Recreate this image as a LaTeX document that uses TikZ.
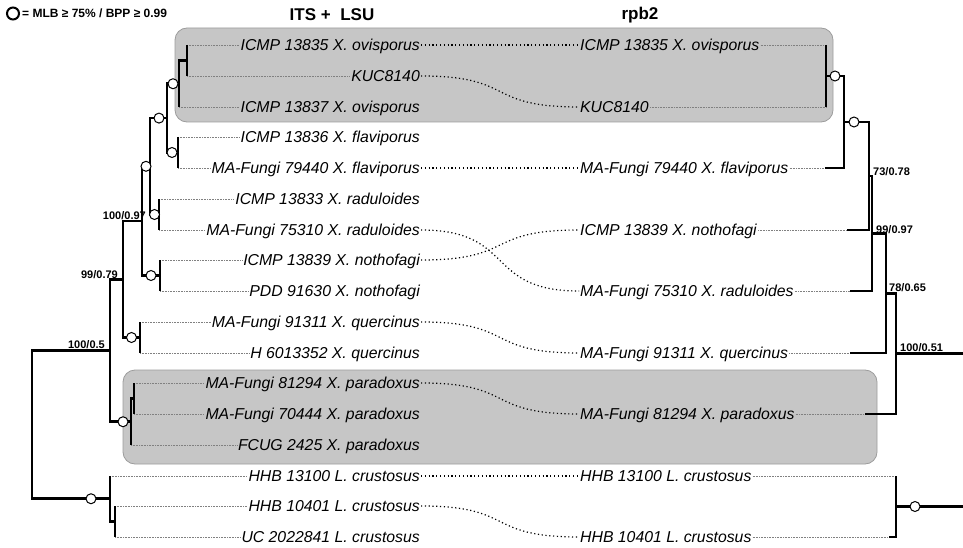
\documentclass[tikz,border=0pt]{standalone}
\usepackage{fontspec}
\setmainfont{Liberation Sans}
\usepackage{xcolor}
\usetikzlibrary{positioning}

\definecolor{cladegray}{HTML}{C6C6C6}
\definecolor{cladeedge}{HTML}{9C9C9C}

\begin{document}
\begin{tikzpicture}[
    x=1pt, y=-1pt,
    taxon/.style={font=\fontsize{15.8}{16}\selectfont\itshape, inner sep=1pt, text height=12pt, text depth=0.7pt},
    branch/.style={line width=2.6pt, line join=miter},
    leader/.style={gray, line width=0.5pt, dash pattern=on 0.8pt off 0.8pt},
    link/.style={line width=1.2pt, dash pattern=on 1.2pt off 2.6pt},
    sup/.style={circle, draw, fill=white, line width=1pt, minimum size=10pt, inner sep=0pt},
    bs/.style={font=\fontsize{11}{12}\selectfont\bfseries, inner sep=1pt},
    clade/.style={fill=cladegray, draw=cladeedge, line width=0.8pt, rounded corners=12pt},
    head/.style={font=\fontsize{17}{18}\selectfont\bfseries}
]
\useasboundingbox (0,0) rectangle (963,548);

% Clade boxes
\draw[clade] (175,28) rectangle (833,122);
\draw[clade] (123,370) rectangle (877,464);

% Legend and headers
\node[sup, line width=2pt, minimum size=12pt] (key) at (13,13.5) {};
\node[font=\fontsize{12}{13}\selectfont\bfseries, inner sep=0pt, right=2pt of key] (keytext) {= MLB ≥ 75\% / BPP ≥ 0.99};
\node[head] (hits) at (332,15) {ITS +\ \ LSU};
\node[head] (hrpb) at (640,15) {rpb2};

% ITS + LSU taxa
\node[taxon, anchor=east] (l1) at (421,45) {ICMP 13835 X. ovisporus};
\node[taxon, anchor=east] (l2) at (421,76) {KUC8140};
\node[taxon, anchor=east] (l3) at (421,107) {ICMP 13837 X. ovisporus};
\node[taxon, anchor=east] (l4) at (421,137) {ICMP 13836 X. flaviporus};
\node[taxon, anchor=east] (l5) at (421,168) {MA-Fungi 79440 X. flaviporus};
\node[taxon, anchor=east] (l6) at (421,199) {ICMP 13833 X. raduloides};
\node[taxon, anchor=east] (l7) at (421,230) {MA-Fungi 75310 X. raduloides};
\node[taxon, anchor=east] (l8) at (421,260) {ICMP 13839 X. nothofagi};
\node[taxon, anchor=east] (l9) at (421,291) {PDD 91630 X. nothofagi};
\node[taxon, anchor=east] (l10) at (421,322) {MA-Fungi 91311 X. quercinus};
\node[taxon, anchor=east] (l11) at (421,353) {H 6013352 X. quercinus};
\node[taxon, anchor=east] (l12) at (421,383) {MA-Fungi 81294 X. paradoxus};
\node[taxon, anchor=east] (l13) at (421,414) {MA-Fungi 70444 X. paradoxus};
\node[taxon, anchor=east] (l14) at (421,445) {FCUG 2425 X. paradoxus};
\node[taxon, anchor=east] (l15) at (421,476) {HHB 13100 L. crustosus};
\node[taxon, anchor=east] (l16) at (421,506) {HHB 10401 L. crustosus};
\node[taxon, anchor=east] (l17) at (421,537) {UC 2022841 L. crustosus};

% rpb2 taxa
\node[taxon, anchor=west] (r1) at (579,45) {ICMP 13835 X. ovisporus};
\node[taxon, anchor=west] (r2) at (579,107) {KUC8140};
\node[taxon, anchor=west] (r3) at (579,168) {MA-Fungi 79440 X. flaviporus};
\node[taxon, anchor=west] (r4) at (579,230) {ICMP 13839 X. nothofagi};
\node[taxon, anchor=west] (r5) at (579,291) {MA-Fungi 75310 X. raduloides};
\node[taxon, anchor=west] (r6) at (579,353) {MA-Fungi 91311 X. quercinus};
\node[taxon, anchor=west] (r7) at (579,414) {MA-Fungi 81294 X. paradoxus};
\node[taxon, anchor=west] (r8) at (579,476) {HHB 13100 L. crustosus};
\node[taxon, anchor=west] (r9) at (579,537) {HHB 10401 L. crustosus};

% Tips and internal nodes, left tree
\coordinate (tL1) at (187,45);
\coordinate (tL2) at (187,76);
\coordinate (tL3) at (179,107);
\coordinate (tL4) at (178,137);
\coordinate (tL5) at (178,168);
\coordinate (tL6) at (159,199);
\coordinate (tL7) at (159,230);
\coordinate (tL8) at (160,260);
\coordinate (tL9) at (160,291);
\coordinate (tL10) at (140,322);
\coordinate (tL11) at (140,353);
\coordinate (tL12) at (134,383);
\coordinate (tL13) at (134,414);
\coordinate (tL14) at (131,445);
\coordinate (tL15) at (110,476);
\coordinate (tL16) at (115,506);
\coordinate (tL17) at (115,537);
\coordinate (n12) at (187,60.5);
\coordinate (n123) at (179,83.75);
\coordinate (n45) at (178,152.5);
\coordinate (nOF) at (167,118.1);
\coordinate (n67) at (159,214.5);
\coordinate (nA) at (150,166.3);
\coordinate (n89) at (160,275.5);
\coordinate (nB) at (142,220.9);
\coordinate (n1011) at (140,337.5);
\coordinate (nC) at (123,279.2);
\coordinate (n1213) at (134,398.5);
\coordinate (nPar) at (131,421.75);
\coordinate (nD) at (110,350.5);
\coordinate (n1617) at (115,521.5);
\coordinate (nCru) at (110,498.75);
\coordinate (nRoot) at (32,424.6);

% Tips and internal nodes, right tree
\coordinate (tR1) at (826,45);
\coordinate (tR2) at (826,107);
\coordinate (tR3) at (825,168);
\coordinate (tR4) at (847,230);
\coordinate (tR5) at (850,291);
\coordinate (tR6) at (850,353);
\coordinate (tR7) at (865,414);
\coordinate (tR8) at (896,476);
\coordinate (tR9) at (889,537);
\coordinate (m12) at (826,76);
\coordinate (m123) at (844,122);
\coordinate (mF) at (869,176);
\coordinate (mE) at (872,233.5);
\coordinate (mG) at (886,293.25);
\coordinate (mH) at (896,353.6);
\coordinate (m89) at (896,506.5);
\coordinate (eR1) at (963,353.6);
\coordinate (eR2) at (963,506.5);

% Leaders
\draw[leader] (tL1) -- (l1.west);
\draw[leader] (tL2) -- (l2.west);
\draw[leader] (tL3) -- (l3.west);
\draw[leader] (tL4) -- (l4.west);
\draw[leader] (tL5) -- (l5.west);
\draw[leader] (tL6) -- (l6.west);
\draw[leader] (tL7) -- (l7.west);
\draw[leader] (tL8) -- (l8.west);
\draw[leader] (tL9) -- (l9.west);
\draw[leader] (tL10) -- (l10.west);
\draw[leader] (tL11) -- (l11.west);
\draw[leader] (tL12) -- (l12.west);
\draw[leader] (tL13) -- (l13.west);
\draw[leader] (tL14) -- (l14.west);
\draw[leader] (tL15) -- (l15.west);
\draw[leader] (tL16) -- (l16.west);
\draw[leader] (tL17) -- (l17.west);
\draw[leader] (r1.east) -- (tR1);
\draw[leader] (r2.east) -- (tR2);
\draw[leader] (r3.east) -- (tR3);
\draw[leader] (r4.east) -- (tR4);
\draw[leader] (r5.east) -- (tR5);
\draw[leader] (r6.east) -- (tR6);
\draw[leader] (r7.east) -- (tR7);
\draw[leader] (r8.east) -- (tR8);
\draw[leader] (r9.east) -- (tR9);

% Links between the two trees
\draw[link] (l1.east) -- (r1.west);
\draw[link] (l2.east) .. controls +(95,0) and +(-95,0) .. (r2.west);
\draw[link] (l5.east) -- (r3.west);
\draw[link] (l7.east) .. controls +(95,0) and +(-95,0) .. (r5.west);
\draw[link] (l8.east) .. controls +(95,0) and +(-95,0) .. (r4.west);
\draw[link] (l10.east) .. controls +(95,0) and +(-95,0) .. (r6.west);
\draw[link] (l12.east) .. controls +(95,0) and +(-95,0) .. (r7.west);
\draw[link] (l15.east) -- (r8.west);
\draw[link] (l16.east) .. controls +(95,0) and +(-95,0) .. (r9.west);

% Left tree
\draw[branch] (tL1) -| (n12) |- (tL2);
\draw[branch] (n12) -| (n123) |- (tL3);
\draw[branch] (tL4) -| (n45) |- (tL5);
\draw[branch] (n123) -| (nOF) |- (n45);
\draw[branch] (tL6) -| (n67) |- (tL7);
\draw[branch] (nOF) -| (nA) |- (n67);
\draw[branch] (tL8) -| (n89) |- (tL9);
\draw[branch] (nA) -| (nB) |- (n89);
\draw[branch] (tL10) -| (n1011) |- (tL11);
\draw[branch] (nB) -| (nC) |- (n1011);
\draw[branch] (tL12) -| (n1213) |- (tL13);
\draw[branch] (n1213) -| (nPar) |- (tL14);
\draw[branch] (nC) -| (nD) |- (nPar);
\draw[branch] (tL16) -| (n1617) |- (tL17);
\draw[branch] (tL15) -| (nCru) |- (n1617);
\draw[branch] (nD) -| (nRoot) |- (nCru);

% Right tree
\draw[branch] (tR1) -| (m12) |- (tR2);
\draw[branch] (m12) -| (m123) |- (tR3);
\draw[branch] (m123) -| (mF) |- (tR4);
\draw[branch] (mF) -| (mE) |- (tR5);
\draw[branch] (mE) -| (mG) |- (tR6);
\draw[branch] (mG) -| (mH) |- (tR7);
\draw[branch] (mH) -- (eR1);
\draw[branch] (tR8) -| (m89) |- (tR9);
\draw[branch] (m89) -- (eR2);

% Well supported nodes
\node[sup] (s1) at (173,83.75) {};
\node[sup] (s2) at (159,118.1) {};
\node[sup] (s3) at (172,152.5) {};
\node[sup] (s4) at (146,166.3) {};
\node[sup] (s5) at (154.5,214.5) {};
\node[sup] (s6) at (151,275.5) {};
\node[sup] (s7) at (131.5,337.5) {};
\node[sup] (s8) at (123,421.75) {};
\node[sup] (s9) at (91,498.75) {};
\node[sup] (s10) at (835,76) {};
\node[sup] (s11) at (854,122) {};
\node[sup] (s12) at (915,506.5) {};

% Support values
\node[bs, anchor=south east] (b1) at (147,220.5) {100/0.97};
\node[bs, anchor=south east] (b2) at (119,280) {99/0.79};
\node[bs, anchor=south east] (b3) at (106,350) {100/0.5};
\node[bs, anchor=south west] (b4) at (872,176.7) {73/0.78};
\node[bs, anchor=south west] (b5) at (875,234.7) {99/0.97};
\node[bs, anchor=south west] (b6) at (888,293) {78/0.65};
\node[bs, anchor=south west] (b7) at (899,353) {100/0.51};

\end{tikzpicture}
\end{document}
